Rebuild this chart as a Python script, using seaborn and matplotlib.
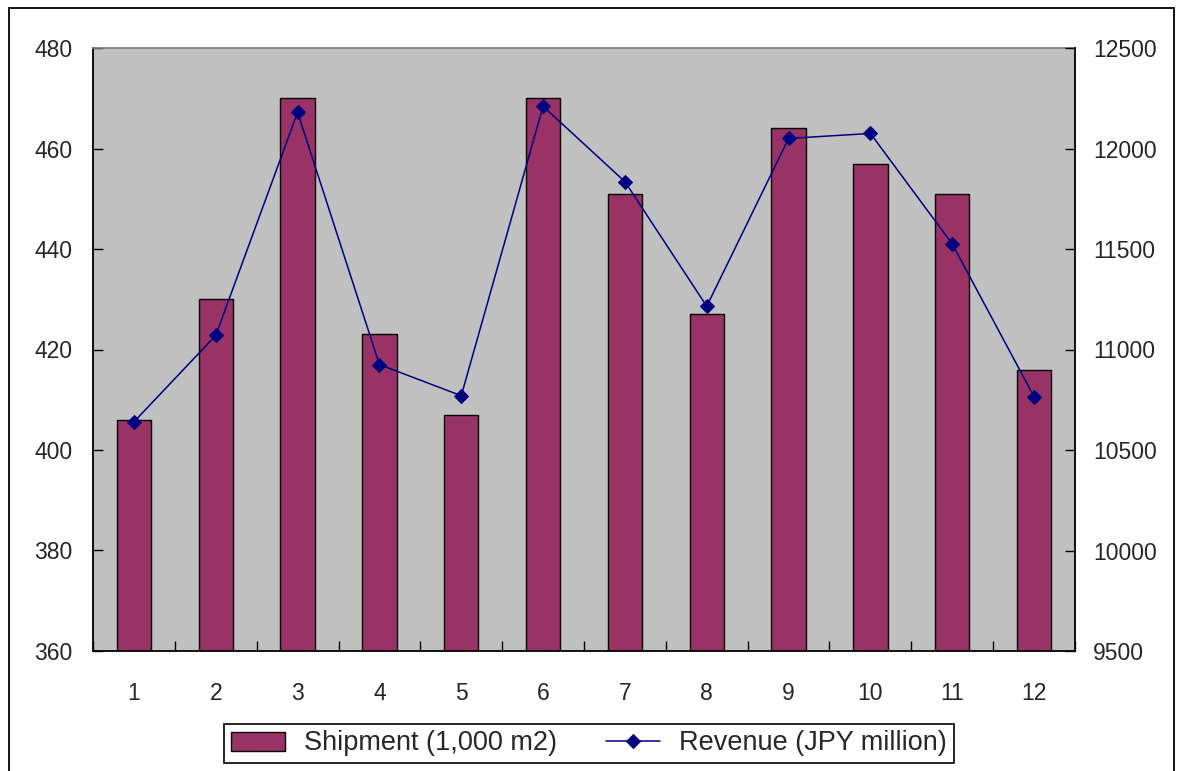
import pandas as pd
import matplotlib.pyplot as plt
from matplotlib.patches import Rectangle
from matplotlib.ticker import MultipleLocator
import seaborn as sns
import numpy as np

# valores
months = ['1', '2', '3', '4', '5', '6', '7', '8', '9', '10', '11', '12']
shipment = [406, 430, 470, 423, 407, 470, 451, 427, 464, 457, 451, 416]
revenue = [10640, 11070, 12180, 10925, 10770, 12210, 11835, 11215, 12050, 12075, 11525, 10765]

sns.set_theme(style="white")
plt.rcParams['font.family'] = ['Liberation Sans', 'DejaVu Sans']

df = pd.DataFrame({'month': months, 'shipment': shipment, 'revenue': revenue})
df['pos'] = np.arange(len(months))

fig = plt.figure(figsize=(11.81, 7.71), dpi=100)
fig.patch.set_facecolor('white')
ax = fig.add_axes([93 / 1181, 1 - 651 / 771, (1075 - 93) / 1181, (651 - 48) / 771])
ax.set_facecolor('#C0C0C0')

sns.barplot(data=df, x='month', y='shipment', order=months, color='#993366', saturation=1,
            width=0.42, edgecolor='black', linewidth=1, label='Shipment (1,000 m2)', ax=ax)
ax.set_xlim(-0.5, len(months) - 0.5)
ax.set_ylim(360, 480)
ax.set_yticks(np.arange(360, 481, 20))
ax.set_xlabel('')
ax.set_ylabel('')

ax2 = ax.twinx()
sns.lineplot(data=df, x='pos', y='revenue', color='#000080', linewidth=1.1, marker='D',
             markersize=7, markeredgecolor='#000080', label='Revenue (JPY million)', ax=ax2)
ax2.set_ylim(9500, 12500)
ax2.set_yticks(np.arange(9500, 12501, 500))
ax2.set_xlim(-0.5, len(months) - 0.5)
ax2.set_xlabel('')
ax2.set_ylabel('')

for a in (ax, ax2):
    if a.get_legend() is not None:
        a.get_legend().remove()

# eixos estilo Excel
ax.spines['right'].set_visible(False)
ax.spines['top'].set_color('#808080')
ax.spines['left'].set_color('black')
ax.spines['bottom'].set_color('black')
ax.spines['left'].set_linewidth(1.3)
ax.spines['bottom'].set_linewidth(1.3)
for s in ('left', 'bottom', 'top'):
    ax2.spines[s].set_visible(False)
ax2.spines['right'].set_color('black')
ax2.spines['right'].set_linewidth(1.3)

ax.tick_params(axis='y', direction='in', length=7, width=1, color='black', pad=15,
               labelsize=16.5, left=True)
ax.xaxis.set_minor_locator(MultipleLocator(1, offset=0.5))
ax.tick_params(axis='x', which='major', length=0, pad=22, labelsize=16.5)
ax.tick_params(axis='x', which='minor', direction='in', length=7, width=1, color='black', bottom=True)
ax2.tick_params(axis='y', direction='in', length=7, width=1, color='black', pad=13,
                labelsize=16.5, right=True)
ax2.grid(False)
ax.grid(False)

h1, l1 = ax.get_legend_handles_labels()
h2, l2 = ax2.get_legend_handles_labels()
leg = fig.legend(h1 + h2, l1 + l2, loc='center', bbox_to_anchor=(589 / 1181, 1 - 743.5 / 771),
                 bbox_transform=fig.transFigure, ncol=2, fontsize=19.5, frameon=True, fancybox=False,
                 edgecolor='black', framealpha=1, handlelength=2.0, handletextpad=0.7,
                 columnspacing=1.8, borderpad=0.25)
leg.get_frame().set_linewidth(1.2)

# moldura externa
fig.patches.append(Rectangle((9 / 1181, -0.02), (1174 - 9) / 1181, 1.02 - 8 / 771,
                             transform=fig.transFigure, fill=False, edgecolor='black',
                             linewidth=1.3, zorder=0))

fig.savefig('out.png', dpi=100)
